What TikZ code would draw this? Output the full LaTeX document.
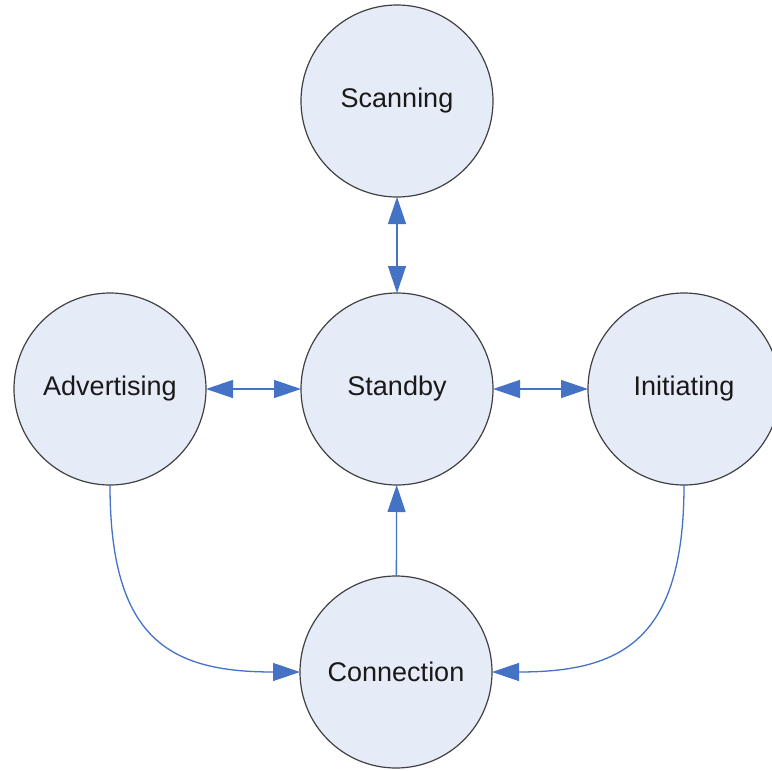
\documentclass[tikz,border=0pt]{standalone}
\usepackage{fontspec}
\setmainfont{Liberation Sans}
\usetikzlibrary{arrows.meta}
\definecolor{statefill}{RGB}{230,236,247}
\definecolor{linkblue}{RGB}{68,114,196}
\begin{document}
\begin{tikzpicture}[x=1pt,y=-1pt,
  state/.style={circle, draw=black!75, line width=1.2pt, fill=statefill,
    minimum size=192pt, inner sep=0pt, outer sep=0pt,
    font=\fontsize{27}{31}\selectfont, text=black!90},
  link/.style={draw=linkblue, line width=1.3pt,
    -{Triangle[length=27pt,width=18pt]}},
  twoway/.style={link, {Triangle[length=27pt,width=18pt]}-{Triangle[length=27pt,width=18pt]}}]
  \useasboundingbox (0,0) rectangle (772,771);
  \fill[white] (0,0) rectangle (772,771);

  % the five states
  \node[state] (scan) at (397,101) {Scanning};
  \node[state] (stby) at (397,389) {Standby};
  \node[state] (adv)  at (110,389) {Advertising};
  \node[state] (init) at (684,389) {Initiating};
  \node[state] (conn) at (396,672) {Connection};

  % transitions
  \draw[twoway] (scan) -- (stby);
  \draw[twoway] (adv) -- (stby);
  \draw[twoway] (stby) -- (init);
  \draw[link] (conn) -- (stby);
  \draw[link] (adv.south) .. controls (110,640) and (170,672) .. (conn.west);
  \draw[link] (init.south) .. controls (684,640) and (622,672) .. (conn.east);
\end{tikzpicture}
\end{document}
